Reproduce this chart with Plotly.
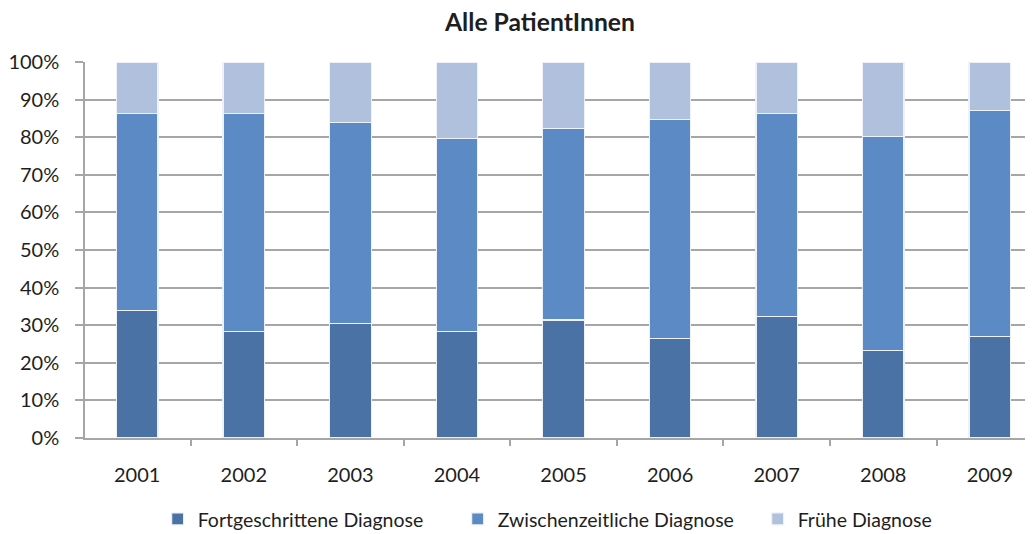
import plotly.graph_objects as go

years = ["2001", "2002", "2003", "2004", "2005", "2006", "2007", "2008", "2009"]
# cumulative share (%)
fortgeschritten = [33.9, 28.4, 30.5, 28.4, 31.4, 26.4, 32.4, 23.2, 27.0]
bis_zwischen = [86.3, 86.3, 84.0, 79.7, 82.3, 84.8, 86.2, 80.2, 87.1]

zwischen = [round(b - a, 1) for a, b in zip(fortgeschritten, bis_zwischen)]
fruehe = [round(100 - b, 1) for b in bis_zwischen]

series_names = ["Fortgeschrittene Diagnose", "Zwischenzeitliche Diagnose", "Frühe Diagnose"]
series_vals = [fortgeschritten, zwischen, fruehe]
colors = ["#4A72A4", "#5B8AC4", "#B0C1DD"]

font = "Lato, 'Open Sans', sans-serif"
text_col = "#1E1E1E"

fig = go.Figure()
for name, vals, col in zip(series_names, series_vals, colors):
    fig.add_trace(go.Bar(
        x=years, y=vals, name=name,
        marker=dict(color=col, line=dict(color="#EEF2F8", width=1.2)),
    ))

# page body has an 8px margin, so the figure is sized to fit the window
fig.update_layout(
    barmode="stack",
    bargap=0.61,
    width=1025, height=526,
    margin=dict(l=77, r=0, t=54, b=96, autoexpand=False),
    paper_bgcolor="white",
    plot_bgcolor="white",
    font=dict(family=font, size=20, color=text_col),
    title=dict(
        text="<b>Alle PatientInnen</b>",
        xref="container", yref="container",
        x=0.519, xanchor="center", y=0.973, yanchor="middle",
        font=dict(family=font, size=24.7, color=text_col),
    ),
    legend=dict(
        orientation="h", xref="container", yref="container",
        x=0.146, xanchor="left", y=0.028, yanchor="middle",
        font=dict(family=font, size=19.5, color=text_col),
        traceorder="normal", itemwidth=30,
        entrywidth=255, entrywidthmode="pixels",
    ),
    xaxis=dict(
        range=[-0.49, 8.405],
        showline=True, linecolor="#A6A6A6", linewidth=1.5,
        ticks="outside", tickson="boundaries", ticklen=6, tickcolor="#A6A6A6",
        tickwidth=1.5, showgrid=False, ticklabelstandoff=18,
        automargin=False,
    ),
    yaxis=dict(
        range=[0, 100], dtick=10, ticksuffix="%",
        showline=True, linecolor="#A6A6A6", linewidth=1.5,
        ticks="outside", ticklen=8, tickcolor="#A6A6A6", tickwidth=1.5,
        showgrid=True, gridcolor="#A6A6A6", gridwidth=1.5,
        zeroline=False, ticklabelstandoff=12,
        automargin=False,
    ),
)

fig.write_html("out.html")
